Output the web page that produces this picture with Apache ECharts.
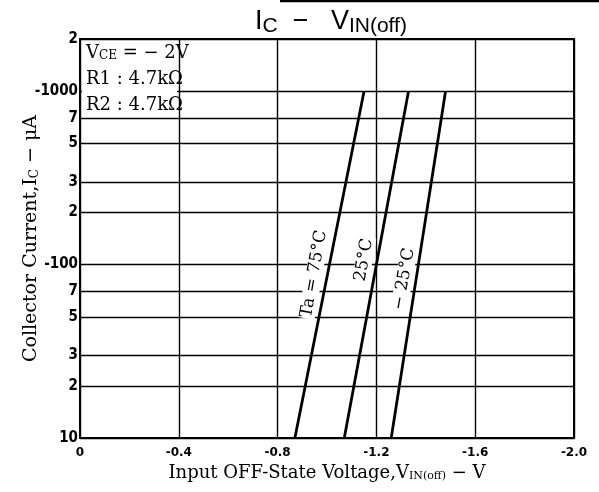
<!DOCTYPE html>
<html lang="en">
<head>
<meta charset="UTF-8">
<title>Ic - Vin(off)</title>
<script src="https://cdn.jsdelivr.net/npm/echarts@6/dist/echarts.min.js"></script>
<style>
  html, body { margin: 0; padding: 0; background: #fff; }
  #chart { width: 599px; height: 492px; }
</style>
</head>
<body>
<div id="chart"></div>
<script>
// collector current (uA, shown as negative) and input off voltage per temperature
var currents = [10, 100, 1000];
var volt75 = [-0.87, -1.01, -1.15];
var volt25 = [-1.07, -1.20, -1.33];
var voltM25 = [-1.26, -1.37, -1.48];

// y grid lines and their labels (log scale)
var yTicks = [10, 20, 30, 50, 70, 100, 200, 300, 500, 700, 1000, 2000];
var yTickLabels = ['10', '2', '3', '5', '7', '-100', '2', '3', '5', '7', '-1000', '2'];

var serif = "'DejaVu Serif', 'Liberation Serif', serif";
var narrow = "'Liberation Sans Narrow', 'DejaVu Sans Condensed', sans-serif";

function pairs(volts) {
  return currents.map(function (c, i) { return [volts[i], c]; });
}

var chart = echarts.init(document.getElementById('chart'));

var lineStyle = { color: '#000', width: 2.8 };
var tilt = 80 * Math.PI / 180;

chart.setOption({
  animation: false,
  backgroundColor: '#fff',
  title: {
    text: '{a|I}{s|C}{a|  −   V}{s|IN(off)}',
    left: 250,
    top: 1,
    textStyle: {
      fontWeight: 'normal',
      rich: {
        a: { fontFamily: "'Liberation Sans', sans-serif", fontSize: 27, fontWeight: 'normal', color: '#000' },
        s: { fontFamily: "'Liberation Sans', sans-serif", fontSize: 21, fontWeight: 'normal', color: '#000', padding: [10, 0, 0, 0] }
      }
    }
  },
  grid: { left: 80, right: 25, top: 39, bottom: 54, show: true, borderColor: '#000', borderWidth: 2 },
  xAxis: {
    type: 'value',
    min: -2.0,
    max: 0,
    interval: 0.4,
    inverse: true,
    name: 'Input OFF-State Voltage,V{s|IN(off)} − V',
    nameLocation: 'middle',
    nameGap: 18,
    nameTextStyle: {
      fontFamily: serif, fontSize: 18, color: '#000',
      rich: { s: { fontFamily: serif, fontSize: 11, color: '#000', padding: [7, 0, 0, 0] } }
    },
    axisLine: { lineStyle: { color: '#000', width: 2 } },
    axisTick: { show: false },
    axisLabel: {
      margin: 9,
      color: '#000',
      fontFamily: "'DejaVu Sans', sans-serif",
      fontWeight: 'bold',
      fontSize: 12,
      formatter: function (v) { return v === 0 ? '0' : v.toFixed(1); }
    },
    splitLine: { show: true, lineStyle: { color: '#000', width: 1.4 } }
  },
  yAxis: {
    type: 'log',
    logBase: 10,
    min: 10,
    max: 2000,
    name: 'Collector Current,I{s|C} − μA',
    nameLocation: 'middle',
    nameRotate: 90,
    nameGap: 39,
    nameTextStyle: {
      fontFamily: serif, fontSize: 19, color: '#000',
      rich: { s: { fontFamily: serif, fontSize: 12, color: '#000', padding: [7, 0, 0, 0] } }
    },
    axisLine: { show: true, lineStyle: { color: '#000', width: 2 } },
    axisTick: { show: false },
    axisLabel: { show: false },
    splitLine: { show: false }
  },
  series: [
    {
      name: 'Ta=75°C',
      type: 'line',
      data: pairs(volt75),
      symbol: 'none',
      lineStyle: lineStyle,
      markLine: {
        silent: true,
        symbol: ['none', 'none'],
        lineStyle: { color: '#000', width: 1.4, type: 'solid' },
        label: {
          position: 'end',
          distance: 2,
          color: '#000',
          fontFamily: narrow,
          fontWeight: 'bold',
          fontSize: 15
        },
        data: yTicks.map(function (v, i) {
          return { yAxis: v, label: { formatter: yTickLabels[i] } };
        })
      }
    },
    { name: '25°C', type: 'line', data: pairs(volt25), symbol: 'none', lineStyle: lineStyle },
    { name: '-25°C', type: 'line', data: pairs(voltM25), symbol: 'none', lineStyle: lineStyle }
  ],
  graphic: [
    // scan edge at the top
    { type: 'line', shape: { x1: 280, y1: 1, x2: 599, y2: 1 }, style: { stroke: '#000', lineWidth: 2.5 } },
    // box with test conditions
    { type: 'rect', shape: { x: 82, y: 41, width: 95, height: 54 }, style: { fill: '#fff' }, z: 10 },
    {
      type: 'text', left: 86, top: 40, z: 11,
      style: {
        text: 'V{s|CE} = − 2V\nR1 : 4.7kΩ\nR2 : 4.7kΩ',
        fontFamily: serif, fontSize: 18, lineHeight: 26, fill: '#000',
        rich: { s: { fontFamily: serif, fontSize: 12, fill: '#000', padding: [6, 0, 0, 0] } }
      }
    },
    // curve labels
    {
      type: 'text', x: 314, y: 274, rotation: tilt, z: 11,
      style: { text: 'Ta = 75°C', align: 'center', verticalAlign: 'middle', fontFamily: serif, fontSize: 17, fill: '#000', backgroundColor: '#fff', padding: [0, 1] }
    },
    {
      type: 'text', x: 364, y: 260, rotation: tilt, z: 11,
      style: { text: '25°C', align: 'center', verticalAlign: 'middle', fontFamily: serif, fontSize: 17, fill: '#000', backgroundColor: '#fff', padding: [0, 1] }
    },
    {
      type: 'text', x: 404, y: 279, rotation: tilt, z: 11,
      style: { text: '− 25°C', align: 'center', verticalAlign: 'middle', fontFamily: serif, fontSize: 17, fill: '#000', backgroundColor: '#fff', padding: [0, 1] }
    }
  ]
});
</script>
</body>
</html>
